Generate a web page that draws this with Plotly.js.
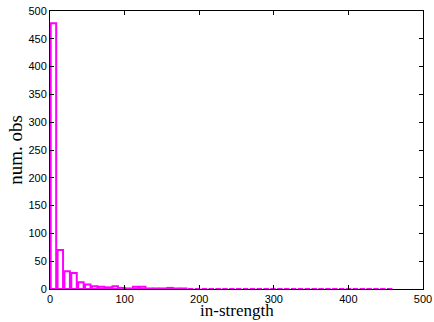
<!DOCTYPE html>
<html>
<head>
<meta charset="utf-8">
<script src="https://cdn.plot.ly/plotly-3.0.1.min.js"></script>
<style>html,body{margin:0;padding:0;background:#fff;}#plot{width:434px;height:322px;}</style>
</head>
<body>
<div id="plot"></div>
<script>
// Histogram of in-strength: 50 bins spanning 0..460
const binStart = 0;
const binWidth = 9.2;
const counts = [478, 70, 32, 29, 12, 8, 5, 4, 3, 5,
                2, 1, 4, 4, 1, 1, 1, 2, 1, 1,
                0, 0, 0, 0, 0, 0, 0, 0, 0, 0,
                0, 0, 0, 0, 0, 0, 0, 0, 0, 0,
                0, 0, 0, 0, 0, 0, 0, 0, 0, 0];
const xTicks = [0, 100, 200, 300, 400, 500];
const yTicks = [0, 50, 100, 150, 200, 250, 300, 350, 400, 450, 500];
const xLabel = 'in-strength';
const yLabel = 'num. obs';

const centers = counts.map((_, i) => binStart + (i + 0.5) * binWidth);

const trace = {
  type: 'bar',
  x: centers,
  y: counts,
  width: binWidth * 0.8,
  marker: {color: '#ffffff', line: {color: '#ff00ff', width: 2}},
  hoverinfo: 'x+y'
};

const axisCommon = {
  showgrid: false,
  zeroline: false,
  showline: true,
  linecolor: '#000',
  linewidth: 1,
  mirror: 'ticks',
  ticks: 'inside',
  ticklen: 4,
  tickcolor: '#000',
  tickfont: {family: 'Liberation Sans, Arial, sans-serif', size: 11, color: '#000'}
};

const layout = {
  width: 434,
  height: 322,
  margin: {l: 50, r: 11, t: 11, b: 33},
  paper_bgcolor: '#fff',
  plot_bgcolor: '#fff',
  showlegend: false,
  bargap: 0,
  xaxis: Object.assign({}, axisCommon, {
    range: [0, 500],
    tickvals: xTicks,
    ticktext: xTicks.map(String)
  }),
  yaxis: Object.assign({}, axisCommon, {
    range: [0, 500],
    tickvals: yTicks,
    ticktext: yTicks.map(String),
    title: {text: yLabel, font: {family: 'Liberation Serif, serif', size: 19, color: '#000'}, standoff: 0}
  }),
  annotations: [{
    text: xLabel,
    xref: 'paper', yref: 'paper',
    x: 0.5, y: 0,
    xanchor: 'center', yanchor: 'top',
    yshift: -11,
    showarrow: false,
    borderpad: 0,
    font: {family: 'Liberation Serif, serif', size: 17, color: '#000'}
  }]
};

Plotly.newPlot('plot', [trace], layout, {displayModeBar: false, staticPlot: true});
</script>
</body>
</html>
